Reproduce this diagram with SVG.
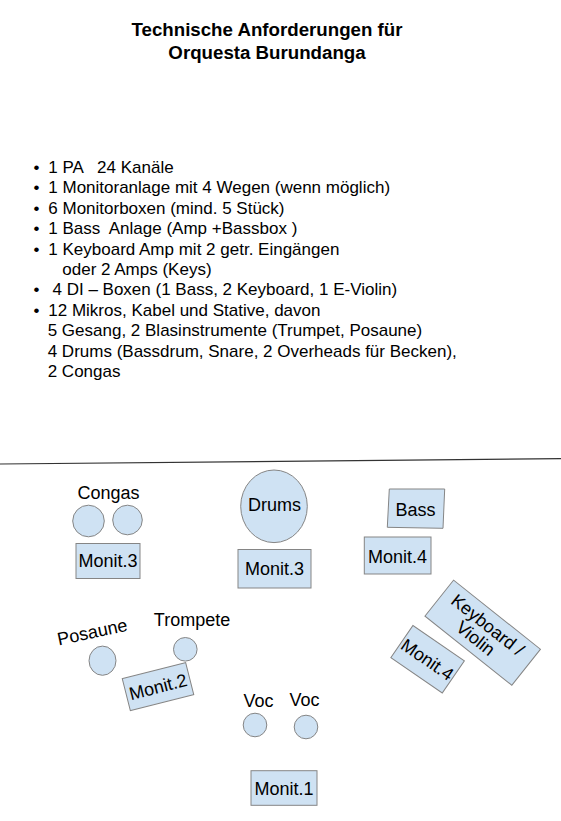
<svg xmlns="http://www.w3.org/2000/svg" width="561" height="821" viewBox="0 0 561 821">
<style>
text{font-family:"Liberation Sans",Arial,sans-serif;fill:#000}
.t{font-size:18.7px;font-weight:bold;text-anchor:middle}
.b{font-size:17px}
.l{font-size:18px;text-anchor:middle}
.s{fill:#cfe2f3;stroke:#858585;stroke-width:1}
</style>
<rect width="561" height="821" fill="#fff"/>
<g id="title">
<text class="t" x="267" y="36">Technische Anforderungen für</text>
<text class="t" x="267" y="59">Orquesta Burundanga</text>
</g>
<g id="list" class="b">
<text class="b" x="33.5" y="173">•</text><text class="b" x="48.3" y="173" xml:space="preserve">1 PA   24 Kanäle</text>
<text class="b" x="33.5" y="193.4">•</text><text class="b" x="48.3" y="193.4">1 Monitoranlage mit 4 Wegen (wenn möglich)</text>
<text class="b" x="33.5" y="213.8">•</text><text class="b" x="48.3" y="213.8">6 Monitorboxen (mind. 5 Stück)</text>
<text class="b" x="33.5" y="234.2">•</text><text class="b" x="48.3" y="234.2" xml:space="preserve">1 Bass  Anlage (Amp +Bassbox )</text>
<text class="b" x="33.5" y="254.6">•</text><text class="b" x="48.3" y="254.6">1 Keyboard Amp mit 2 getr. Eingängen</text>
<text class="b" x="62.3" y="275">oder 2 Amps (Keys)</text>
<text class="b" x="33.5" y="295.4">•</text><text class="b" x="52.5" y="295.4">4 DI – Boxen (1 Bass, 2 Keyboard, 1 E-Violin)</text>
<text class="b" x="33.5" y="315.8">•</text><text class="b" x="48.3" y="315.8">12 Mikros, Kabel und Stative, davon</text>
<text class="b" x="47.7" y="336.2">5 Gesang, 2 Blasinstrumente (Trumpet, Posaune)</text>
<text class="b" x="47.7" y="356.6">4 Drums (Bassdrum, Snare, 2 Overheads für Becken),</text>
<text class="b" x="47.7" y="377">2 Congas</text>
</g>
<g id="connectors">
<line x1="0" y1="464" x2="561" y2="458.6" stroke="#333" stroke-width="1.2"/>
</g>
<g id="congas">
<text class="l" x="108.5" y="499">Congas</text>
<circle class="s" cx="88.5" cy="521" r="15.8"/>
<circle class="s" cx="127.5" cy="520" r="14.8"/>
</g>
<g id="monit3-left">
<rect class="s" x="76" y="543.5" width="64" height="35"/>
<text class="l" x="108" y="567">Monit.3</text>
</g>
<g id="drums">
<ellipse class="s" cx="274" cy="506.3" rx="33.3" ry="36.3"/>
<text class="l" x="274.5" y="510.5">Drums</text>
</g>
<g id="monit3-mid">
<rect class="s" x="238" y="549.5" width="73" height="38.5"/>
<text class="l" x="274.5" y="574.5">Monit.3</text>
</g>
<g id="bass">
<polygon class="s" points="389.3,489 444.7,489 443,528.3 387.3,527.3"/>
<text class="l" x="415.5" y="516">Bass</text>
</g>
<g id="monit4-upper">
<rect class="s" x="364.3" y="537" width="66.7" height="37"/>
<text class="l" x="397.5" y="562.5">Monit.4</text>
</g>
<g id="keyboard" transform="translate(482.7,632.7) rotate(38.5)">
<rect class="s" x="-55.5" y="-23" width="111" height="46"/>
<text class="l" x="-1" y="-3">Keyboard /</text>
<text class="l" x="-2" y="15">Violin</text>
</g>
<g id="monit4-lower" transform="translate(427.6,659.3) rotate(34.5)">
<rect class="s" x="-31.2" y="-19.5" width="62.4" height="39"/>
<text class="l" x="0" y="6.5">Monit.4</text>
</g>
<g id="posaune">
<text class="l" transform="translate(93.5,638) rotate(-12)" x="0" y="0">Posaune</text>
<ellipse class="s" cx="102.5" cy="660.7" rx="13.5" ry="14.6"/>
</g>
<g id="trompete">
<text class="l" x="192" y="626">Trompete</text>
<circle class="s" cx="185.3" cy="649.3" r="11.8"/>
</g>
<g id="monit2" transform="translate(158,686.6) rotate(-14.2)">
<rect class="s" x="-32.7" y="-16.5" width="65.4" height="33"/>
<text class="l" x="0" y="6.5">Monit.2</text>
</g>
<g id="voc-left">
<text class="l" x="258.5" y="707">Voc</text>
<circle class="s" cx="255" cy="725" r="11.8"/>
</g>
<g id="voc-right">
<text class="l" x="304.5" y="706">Voc</text>
<circle class="s" cx="306" cy="727" r="11.8"/>
</g>
<g id="monit1">
<rect class="s" x="251" y="770.7" width="66" height="34.6"/>
<text class="l" x="284" y="794.5">Monit.1</text>
</g>
</svg>
